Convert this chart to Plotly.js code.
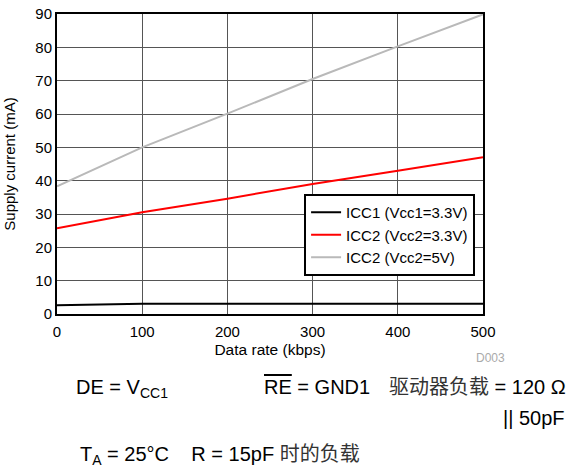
<!DOCTYPE html>
<html>
<head>
<meta charset="utf-8">
<script src="https://cdn.plot.ly/plotly-3.0.1.min.js"></script>
<style>
  html, body { margin: 0; padding: 0; background: #fff; }
  #chart { width: 575px; height: 468px; }
</style>
</head>
<body>
<div id="chart"></div>
<script>
// Supply current vs data rate
const dataRate = [0, 100, 200, 300, 400, 500];          // kbps
const icc1_vcc1_33 = [2.6, 3.1, 3.1, 3.1, 3.1, 3.1];    // mA
const icc2_vcc2_33 = [25.7, 30.5, 34.6, 39.0, 43.0, 47.0];
const icc2_vcc2_5 = [38.3, 50.0, 60.1, 70.5, 80.3, 89.9];

const seriesNames = ['ICC1 (Vcc1=3.3V)', 'ICC2 (Vcc2=3.3V)', 'ICC2 (Vcc2=5V)'];
const seriesColors = ['#000000', '#ff0000', '#b9b9b9'];
const xTicks = [0, 100, 200, 300, 400, 500];
const yTicks = [0, 10, 20, 30, 40, 50, 60, 70, 80, 90];

const font = 'Liberation Sans, Arial, Helvetica, sans-serif';
const cjkFont = 'Liberation Sans, Arial, Noto Sans CJK SC, sans-serif';

const traces = [icc1_vcc1_33, icc2_vcc2_33, icc2_vcc2_5].map((ys, i) => ({
  x: dataRate,
  y: ys,
  type: 'scatter',
  mode: 'lines',
  name: seriesNames[i],
  line: { color: seriesColors[i], width: 2 }
}));

const noteStyle = { family: font, size: 20, color: '#000' };
const cjkStyle = { family: cjkFont, size: 20, color: '#000' };

const layout = {
  width: 575,
  height: 468,
  margin: { l: 57, r: 92, t: 14, b: 154 },
  paper_bgcolor: '#ffffff',
  plot_bgcolor: '#ffffff',
  font: { family: font, size: 15, color: '#000' },
  showlegend: true,
  legend: {
    x: 0.58, y: 0.4, xanchor: 'left', yanchor: 'top',
    bgcolor: '#ffffff', bordercolor: '#000', borderwidth: 2,
    font: { family: font, size: 15, color: '#000' },
    tracegroupgap: 0
  },
  xaxis: {
    range: [0, 500],
    tickvals: xTicks,
    ticktext: xTicks.map(String),
    showgrid: true, gridcolor: '#555555', gridwidth: 1,
    showline: true, linecolor: '#000', linewidth: 2, mirror: true,
    zeroline: false, ticks: '',
    tickfont: { size: 15 },
    ticklabelstandoff: 3,
    title: { text: 'Data rate (kbps)', font: { size: 15.5 }, standoff: 5 }
  },
  yaxis: {
    range: [0, 90],
    tickvals: yTicks,
    ticktext: yTicks.map(String),
    showgrid: true, gridcolor: '#555555', gridwidth: 1,
    showline: true, linecolor: '#000', linewidth: 2, mirror: true,
    zeroline: false, ticks: '',
    tickfont: { size: 15 },
    title: { text: 'Supply current (mA)', font: { size: 15 }, standoff: 16 }
  },
  annotations: [
    { text: 'D003', xref: 'paper', yref: 'paper', x: 1.056, y: -0.145,
      xanchor: 'right', yanchor: 'middle', showarrow: false,
      font: { family: font, size: 12, color: '#aaaaaa' } },
    { text: 'DE = V<sub>CC1</sub>', xref: 'paper', yref: 'paper', x: 0.040, y: -0.248,
      xanchor: 'left', yanchor: 'middle', showarrow: false, font: noteStyle },
    { text: '<span style="text-decoration:overline">RE</span> = GND1', xref: 'paper', yref: 'paper',
      x: 0.481, y: -0.243, xanchor: 'left', yanchor: 'middle', showarrow: false, font: noteStyle },
    { text: '<span style="color:#333">驱动器负载</span> = 120 Ω', xref: 'paper', yref: 'paper',
      x: 0.775, y: -0.243, xanchor: 'left', yanchor: 'middle', showarrow: false, font: cjkStyle },
    { text: '|| 50pF', xref: 'paper', yref: 'paper', x: 1.197, y: -0.347,
      xanchor: 'right', yanchor: 'middle', showarrow: false, font: noteStyle },
    { text: 'T<sub>A</sub> = 25°C    R = 15pF <span style="color:#333">时的负载</span>', xref: 'paper', yref: 'paper',
      x: 0.049, y: -0.47, xanchor: 'left', yanchor: 'middle', showarrow: false, font: cjkStyle }
  ]
};

Plotly.newPlot('chart', traces, layout, { displayModeBar: false, staticPlot: true });
</script>
</body>
</html>
